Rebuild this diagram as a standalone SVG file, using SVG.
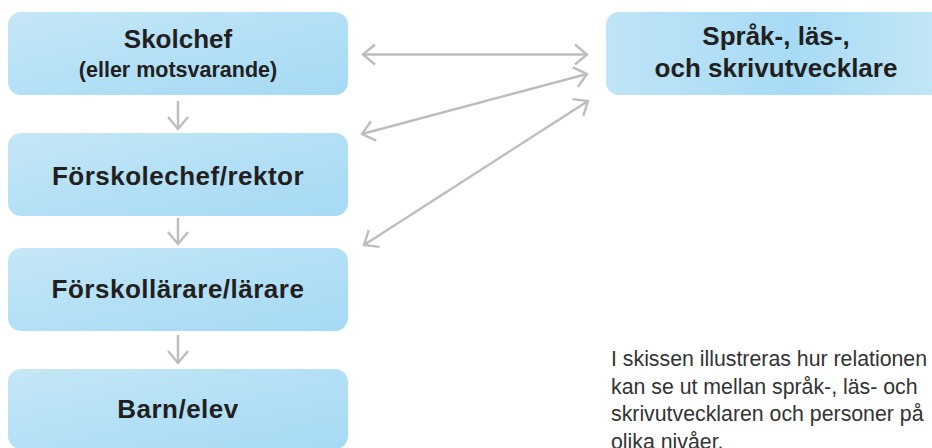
<svg xmlns="http://www.w3.org/2000/svg" width="932" height="448" viewBox="0 0 932 448">
<defs>
<linearGradient id="gBox" x1="0" y1="0" x2="1" y2="1">
<stop offset="0" stop-color="#c6e7f6"/>
<stop offset="0.5" stop-color="#b3e0f6"/>
<stop offset="1" stop-color="#a6daf4"/>
</linearGradient>
<linearGradient id="gRight" x1="0" y1="0" x2="1" y2="0">
<stop offset="0" stop-color="#bfe4f6"/>
<stop offset="0.55" stop-color="#a7dbf5"/>
<stop offset="1" stop-color="#c4e7f5"/>
</linearGradient>
<marker id="chev" viewBox="-15 -12 17 24" refX="0" refY="0" markerWidth="17" markerHeight="24" markerUnits="userSpaceOnUse" orient="auto-start-reverse">
<path d="M-12,-10 L0,0 L-12,10" fill="none" stroke="#bdbdbf" stroke-width="2.4"/>
</marker>
</defs>
<style>
.box{fill:url(#gBox);}
.t{font-family:"Liberation Sans",Arial,sans-serif;font-weight:bold;fill:#231f20;text-anchor:middle;}
.big{font-size:26px;}
.wide{letter-spacing:0.5px;}
.sub{font-size:21.5px;}
.c{fill:none;stroke:#bdbdbf;stroke-width:2.4;}
.note{font-family:"Liberation Sans",Arial,sans-serif;font-size:21.3px;fill:#333333;}
</style>
<g id="connectors">
<line class="c" x1="178" y1="101" x2="178" y2="129" marker-end="url(#chev)"/>
<line class="c" x1="178" y1="218" x2="178" y2="244" marker-end="url(#chev)"/>
<line class="c" x1="178" y1="335" x2="178" y2="363" marker-end="url(#chev)"/>
<line class="c" x1="363" y1="54.5" x2="587" y2="54.5" marker-start="url(#chev)" marker-end="url(#chev)"/>
<line class="c" x1="362" y1="134" x2="587" y2="74" marker-start="url(#chev)" marker-end="url(#chev)"/>
<line class="c" x1="364" y1="245" x2="588" y2="101" marker-start="url(#chev)" marker-end="url(#chev)"/>
</g>
<g id="node-skolchef">
<rect class="box" x="8" y="12" width="340" height="83" rx="13"/>
<text class="t big" x="178" y="48">Skolchef</text>
<text class="t sub" x="178" y="77">(eller motsvarande)</text>
</g>
<g id="node-forskolechef">
<rect class="box" x="8" y="133" width="340" height="83" rx="13"/>
<text class="t big wide" x="178" y="185">Förskolechef/rektor</text>
</g>
<g id="node-forskollarare">
<rect class="box" x="8" y="248" width="340" height="83" rx="13"/>
<text class="t big wide" x="178" y="298">Förskollärare/lärare</text>
</g>
<g id="node-barn">
<rect class="box" x="8" y="369" width="340" height="80" rx="13"/>
<text class="t big wide" x="178" y="418">Barn/elev</text>
</g>
<g id="node-utvecklare">
<rect x="606" y="12" width="340" height="83" rx="13" fill="url(#gRight)"/>
<text class="t big" x="776" y="45">Språk-, läs-,</text>
<text class="t big" x="776" y="77">och skrivutvecklare</text>
</g>
<g id="caption">
<text class="note" x="611" y="366">I skissen illustreras hur relationen</text>
<text class="note" x="611" y="394">kan se ut mellan språk-, läs- och</text>
<text class="note" x="611" y="421">skrivutvecklaren och personer på</text>
<text class="note" x="611" y="449">olika nivåer.</text>
</g>
</svg>
